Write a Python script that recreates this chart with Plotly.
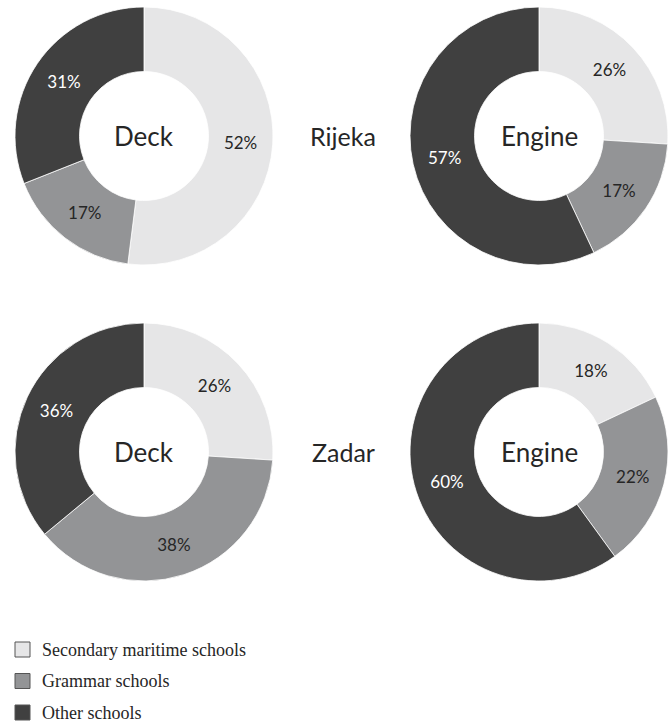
import plotly.graph_objects as go

categories = ["Secondary maritime schools", "Grammar schools", "Other schools"]
colors = ["#e6e6e7", "#939496", "#404040"]
text_colors = ["#262626", "#262626", "#ffffff"]

rijeka_deck = [52, 17, 31]
rijeka_engine = [26, 17, 57]
zadar_deck = [26, 38, 36]
zadar_engine = [18, 22, 60]

cities = ["Rijeka", "Zadar"]
panels = ["Deck", "Engine"]

W, H = 672, 724

def px_x(x):
    return x / W

def px_y(y):
    return 1 - y / H

fig = go.Figure()

R = 129
centers = {
    ("Rijeka", "Deck"): (144, 136, rijeka_deck),
    ("Rijeka", "Engine"): (539, 136, rijeka_engine),
    ("Zadar", "Deck"): (144, 452, zadar_deck),
    ("Zadar", "Engine"): (539, 452, zadar_engine),
}

annotations = []
for (city, panel), (cx, cy, vals) in centers.items():
    fig.add_trace(go.Pie(
        labels=categories,
        values=vals,
        hole=0.5,
        sort=False,
        direction="clockwise",
        rotation=0,
        marker=dict(colors=colors, line=dict(color="#ffffff", width=0.8)),
        texttemplate="%{value}%",
        textposition="inside",
        insidetextorientation="horizontal",
        textfont=dict(family="Lato", size=17, color=text_colors),
        domain=dict(x=[px_x(cx - R), px_x(cx + R)], y=[px_y(cy + R), px_y(cy - R)]),
        showlegend=False,
        hoverinfo="label+value",
    ))
    annotations.append(dict(
        text=panel, x=px_x(cx), y=px_y(cy), xref="paper", yref="paper",
        showarrow=False, font=dict(family="Lato", size=26, color="#262626"),
        xanchor="center", yanchor="middle",
    ))

for city, cy in zip(cities, [136, 452]):
    annotations.append(dict(
        text=city, x=px_x(343), y=px_y(cy), xref="paper", yref="paper",
        showarrow=False, font=dict(family="Lato", size=25, color="#262626"),
        xanchor="center", yanchor="middle",
    ))

shapes = []
for i, (cat, col) in enumerate(zip(categories, colors)):
    yc = 649.5 + i * 31.5
    shapes.append(dict(
        type="rect", xref="paper", yref="paper",
        x0=px_x(15), x1=px_x(30), y0=px_y(yc + 7.5), y1=px_y(yc - 7.5),
        fillcolor=col, line=dict(color="#555555", width=1),
    ))
    annotations.append(dict(
        text=cat, x=px_x(40), y=px_y(yc), xref="paper", yref="paper",
        showarrow=False, font=dict(family="Liberation Serif", size=18, color="#262626"),
        xanchor="left", yanchor="middle",
    ))

fig.update_layout(
    width=W, height=H,
    margin=dict(l=0, r=0, t=0, b=0),
    paper_bgcolor="#ffffff",
    plot_bgcolor="#ffffff",
    annotations=annotations,
    shapes=shapes,
    uniformtext=dict(minsize=17, mode="show"),
)

fig.write_html(
    "out.html",
    config={"displayModeBar": False},
    post_script="document.body.style.margin='0px';document.body.style.overflow='hidden';",
)
